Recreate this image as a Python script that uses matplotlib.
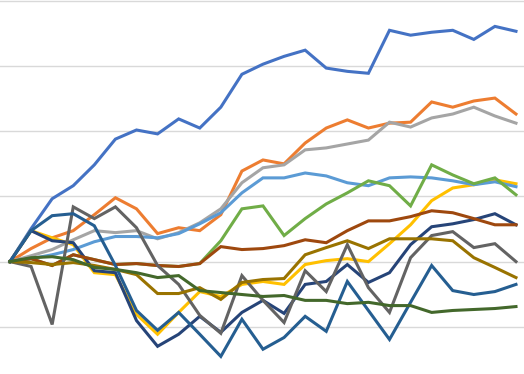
import matplotlib
matplotlib.use("Agg")
import matplotlib.pyplot as plt
import numpy as np

# % change per period (12 series, 25 points each)
periods = np.arange(25)

blue = [0, 10.1, 19.3, 23.3, 29.7, 37.6, 40.4, 39.2, 43.8, 41.0, 47.4, 57.5, 60.6,
        63.0, 64.9, 59.4, 58.4, 57.8, 71.0, 69.5, 70.4, 71.0, 68.2, 72.2, 70.7]
orange = [0, 4.0, 7.3, 9.5, 14.4, 19.6, 16.2, 8.6, 10.4, 9.5, 14.4, 27.8, 31.2,
          30.0, 36.4, 41.0, 43.5, 41.0, 42.5, 42.8, 49.0, 47.4, 49.3, 50.2, 45.3]
gray = [0, 1.8, 3.7, 6.7, 9.5, 8.9, 9.5, 7.0, 8.9, 11.9, 16.2, 24.2, 28.8,
        29.7, 34.3, 34.9, 36.1, 37.3, 42.8, 41.3, 44.1, 45.3, 47.4, 44.7, 42.5]
yellow = [0, 9.5, 7.3, 5.2, -3.4, -4.0, -16.2, -22.3, -15.6, -9.2, -10.7, -7.0, -6.1,
          -7.0, -0.9, 0.3, 0.9, 0, 5.5, 11.3, 18.7, 22.6, 23.6, 25.1, 23.9]
light_blue = [0, 0.9, 2.1, 3.7, 6.1, 7.7, 7.7, 7.3, 8.6, 11.6, 15.0, 21.1, 25.7,
              25.7, 27.2, 26.3, 24.2, 23.3, 25.7, 26.0, 25.7, 24.8, 23.6, 24.5, 23.0]
# early part of this one sits under the brown line
green = [0, 0.9, -1.2, 2.1, 0.6, -0.9, -0.6, -1.2, -1.5, -0.6, 6.4, 16.2, 17.1,
         8.0, 13.2, 17.7, 21.1, 24.8, 23.3, 17.1, 29.7, 26.6, 23.9, 25.7, 20.5]
navy = [0, 9.5, 6.4, 5.8, -2.8, -3.4, -18.1, -26.0, -22.3, -16.8, -21.7, -15.6, -11.9,
        -15.9, -7.0, -6.1, -0.9, -6.4, -3.4, 5.2, 10.7, 11.6, 12.9, 14.7, 11.3]
brown = [0, 0.9, -1.2, 2.1, 0.6, -0.9, -0.6, -1.2, -1.5, -0.6, 4.6, 3.7, 4.0,
         4.9, 6.7, 5.8, 9.5, 12.5, 12.5, 13.8, 15.6, 15.0, 13.2, 11.3, 11.3]
dark_gray = [0, -1.5, -19.3, 16.8, 13.2, 16.8, 10.4, -1.2, -7.0, -16.5, -22.0, -4.3, -11.9,
             -18.7, -2.8, -9.2, 5.2, -8.0, -15.6, 1.2, 8.0, 9.2, 4.3, 5.5, 0]
dark_yellow = [0, -0.3, -0.9, -0.3, -1.2, -2.4, -4.0, -9.8, -9.8, -8.0, -11.6, -6.4, -5.5,
               -5.2, 2.1, 4.3, 6.4, 4.0, 7.0, 7.0, 7.0, 6.4, 1.2, -1.8, -4.9]
steel_blue = [0, 9.5, 14.1, 14.7, 11.0, -1.2, -15.0, -21.1, -15.6, -22.3, -29.1, -17.7, -26.9,
              -23.3, -16.8, -21.4, -6.1, -15.0, -23.9, -12.5, -1.2, -8.9, -10.1, -9.2, -7.0]
dark_green = [0, 1.2, 1.5, 0.6, -1.8, -2.4, -3.4, -4.9, -4.3, -8.9, -9.5, -10.1, -10.7,
              -10.4, -11.9, -11.9, -12.9, -12.5, -13.5, -13.5, -15.6, -15.0, -14.7, -14.4, -13.8]

series = [blue, orange, gray, yellow, light_blue, green,
          navy, brown, dark_gray, dark_yellow, steel_blue, dark_green]
colors = ["#4472C4", "#ED7D31", "#A5A5A5", "#FFC000", "#5B9BD5", "#70AD47",
          "#264478", "#9E480E", "#636363", "#997300", "#255E91", "#43682B"]

fig = plt.figure(figsize=(5.24, 3.74), dpi=100)
ax = fig.add_axes([0, 0, 1, 1])

for vals, c in zip(series, colors):
    ax.plot(periods, vals, color=c, lw=2.2, solid_joinstyle="miter")

ax.set_xlim(-0.474, 24.38)
ax.set_ylim(-34.5, 80.3)
ax.set_yticks(np.arange(-20, 81, 20))
ax.grid(axis="y", color="#d9d9d9", lw=1)
ax.set_axisbelow(True)
ax.tick_params(left=False, bottom=False, labelleft=False, labelbottom=False)
for s in ax.spines.values():
    s.set_visible(False)

fig.savefig("out.png", dpi=100)
